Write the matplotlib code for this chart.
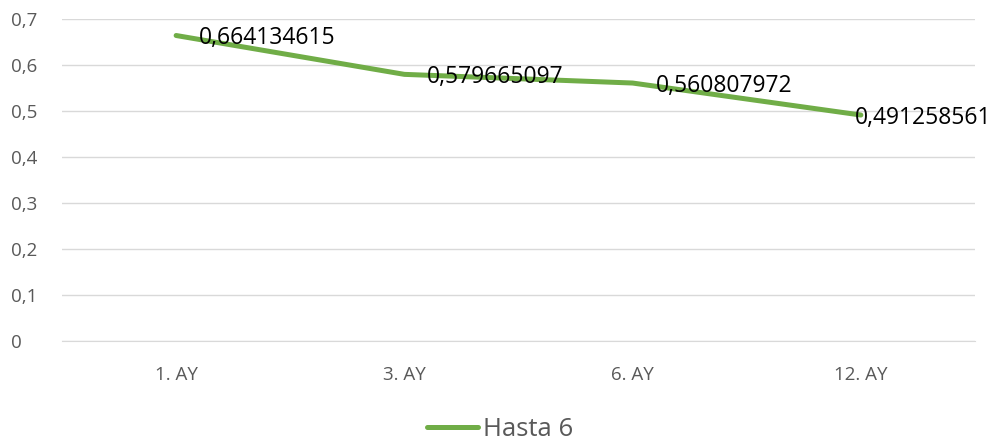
import matplotlib.pyplot as plt
from matplotlib.ticker import FuncFormatter

categories = ['1. AY', '3. AY', '6. AY', '12. AY']
values = [0.664134615, 0.579665097, 0.560807972, 0.491258561]
labels = ['0,664134615', '0,579665097', '0,560807972', '0,491258561']
series_name = 'Hasta 6'

plt.rcParams['font.family'] = ['Open Sans', 'DejaVu Sans']

fig = plt.figure(figsize=(10, 4.42), dpi=100)
ax = fig.add_axes([0.062, 0.2285, 0.913, 0.7285])

x = list(range(len(categories)))
line, = ax.plot(x, values, color='#70AD47', linewidth=3.6,
                solid_capstyle='round', label=series_name)
# label offsets in points; the last one is pulled back so it fits
offsets = [(16.5, -2), (16.5, -2), (16.5, -2), (-4, -2)]
for xi, v, lab, off in zip(x, values, labels, offsets):
    ax.annotate(lab, (xi, v), xytext=off, textcoords='offset points',
                ha='left', va='center', fontsize=16.5, color='black',
                annotation_clip=False)

ax.set_xlim(-0.5, len(categories) - 0.5)
ax.set_ylim(0, 0.7)
ax.set_yticks([i / 10 for i in range(8)])
ax.yaxis.set_major_formatter(FuncFormatter(
    lambda v, p: '0' if v == 0 else f'{v:.1f}'.replace('.', ',')))
ax.set_xticks(x)
ax.set_xticklabels(categories)
ax.grid(axis='y', color='#D9D9D9', linewidth=1)
ax.set_axisbelow(True)
for s in ['top', 'right', 'left']:
    ax.spines[s].set_visible(False)
ax.spines['bottom'].set_color('#D9D9D9')
ax.tick_params(axis='both', length=0, labelsize=13.5, colors='#595959')
ax.tick_params(axis='x', pad=18)
ax.tick_params(axis='y', pad=37)
for t in ax.get_yticklabels():
    t.set_ha('left')

fig.legend(handles=[line], loc='center', bbox_to_anchor=(0.5, 0.028),
           frameon=False, fontsize=18.5, labelcolor='#595959',
           handlelength=2.0, handletextpad=0.2, borderpad=0)

fig.savefig('out.png')
